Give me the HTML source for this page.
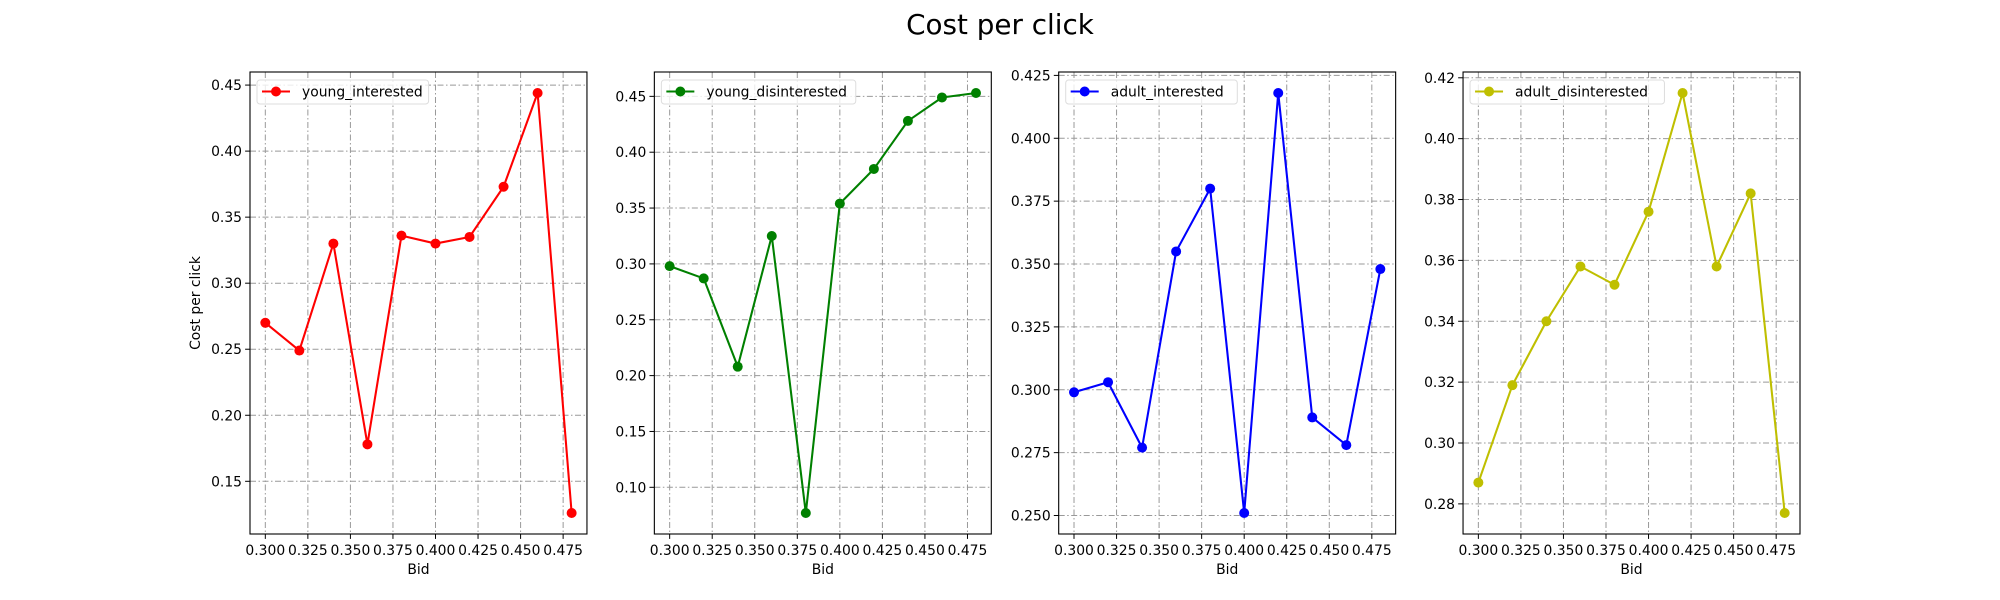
<!DOCTYPE html>
<html><head><meta charset="utf-8"><style>
html,body{margin:0;padding:0;background:#fff;}
svg{display:block;font-family:"DejaVu Sans","Liberation Sans",sans-serif;}
</style></head><body>
<svg id="chart" width="2000" height="600" viewBox="0 0 2000 600" xmlns="http://www.w3.org/2000/svg">
<text x="1000" y="34" text-anchor="middle" font-size="27.8" fill="#000">Cost per click</text>
</svg>
<script>
const bids = [0.30,0.32,0.34,0.36,0.38,0.40,0.42,0.44,0.46,0.48];
const youngInterested = [0.270,0.249,0.330,0.178,0.336,0.330,0.335,0.373,0.444,0.126];
const youngDisinterested = [0.298,0.287,0.208,0.325,0.077,0.354,0.385,0.428,0.449,0.453];
const adultInterested = [0.299,0.303,0.277,0.355,0.380,0.251,0.418,0.289,0.278,0.348];
const adultDisinterested = [0.287,0.319,0.340,0.358,0.352,0.376,0.415,0.358,0.382,0.277];
const seriesNames = ["young_interested","young_disinterested","adult_interested","adult_disinterested"];
const xTicks = [0.300,0.325,0.350,0.375,0.400,0.425,0.450,0.475];
const yTicks1 = [0.15,0.20,0.25,0.30,0.35,0.40,0.45];
const yTicks2 = [0.10,0.15,0.20,0.25,0.30,0.35,0.40,0.45];
const yTicks3 = [0.250,0.275,0.300,0.325,0.350,0.375,0.400,0.425];
const yTicks4 = [0.28,0.30,0.32,0.34,0.36,0.38,0.40,0.42];

const svg = document.getElementById('chart');
const NS = 'http://www.w3.org/2000/svg';
function mk(tag, attrs, parent){const e=document.createElementNS(NS,tag);for(const k in attrs)e.setAttribute(k,attrs[k]);(parent||svg).appendChild(e);return e;}

const panels = [
  {vals:youngInterested, ticks:yTicks1, color:'#ff0000', dec:2, ylabel:true},
  {vals:youngDisinterested, ticks:yTicks2, color:'#008000', dec:2},
  {vals:adultInterested, ticks:yTicks3, color:'#0000ff', dec:3},
  {vals:adultDisinterested, ticks:yTicks4, color:'#bfbf00', dec:2}
];
const W = 1550/(4+3*0.2), GAP = W*0.2, TOP = 72, BOT = 534;

panels.forEach((p, i) => {
  const L = 250 + i*(W+GAP), R = L + W;
  const g = mk('g', {});
  
  
  const xmin = Math.min(...bids), xmax = Math.max(...bids), xm = (xmax-xmin)*0.05;
  const ymin = Math.min(...p.vals), ymax = Math.max(...p.vals), ym = (ymax-ymin)*0.05;
  const sx = v => L + (v-(xmin-xm))/((xmax+xm)-(xmin-xm))*W;
  const sy = v => BOT - (v-(ymin-ym))/((ymax+ym)-(ymin-ym))*(BOT-TOP);
  xTicks.forEach(t => {
    const x = sx(t);
    const gl = mk('line',{x1:x,x2:x,y1:TOP,y2:BOT,stroke:'#999',"stroke-width":1,"stroke-dasharray":'6,2.5,1.5,2.5'},g);
    
    
    mk('line',{x1:x,x2:x,y1:BOT,y2:BOT+4.9,stroke:'#000',"stroke-width":1},g);
    const tx = mk('text',{x:x,y:BOT+21,"text-anchor":'middle',"font-size":13.9,fill:'#000'},g);
    tx.textContent = t.toFixed(3);
    
    
  });
  p.ticks.forEach(t => {
    const y = sy(t);
    const gl = mk('line',{x1:L,x2:R,y1:y,y2:y,stroke:'#999',"stroke-width":1,"stroke-dasharray":'6,2.5,1.5,2.5'},g);
    
    
    mk('line',{x1:L-4.9,x2:L,y1:y,y2:y,stroke:'#000',"stroke-width":1},g);
    const ty = mk('text',{x:L-8,y:y+5,"text-anchor":'end',"font-size":13.9,fill:'#000'},g);
    ty.textContent = t.toFixed(p.dec);
    
    
  });
  const pts = bids.map((b,k)=>sx(b).toFixed(2)+','+sy(p.vals[k]).toFixed(2)).join(' ');
  const pl = mk('polyline',{points:pts,fill:'none',stroke:p.color,"stroke-width":2.08,"stroke-linejoin":'round'},g);
  
  
  bids.forEach((b,k)=>{
    const c = mk('circle',{cx:sx(b),cy:sy(p.vals[k]),r:5,fill:p.color},g);
    
    
  });
  const fr = mk('rect',{x:L,y:TOP,width:W,height:BOT-TOP,fill:'none',stroke:'#000',"stroke-width":1.1},g);
  
  
  const xl = mk('text',{x:(L+R)/2,y:574,"text-anchor":'middle',"font-size":13.9,fill:'#000'},g);
  xl.textContent = 'Bid';
  
  
  if (p.ylabel) {
    const yl = mk('text',{x:0,y:0,"text-anchor":'middle',"font-size":13.9,fill:'#000',transform:`translate(200,${(TOP+BOT)/2}) rotate(-90)`},g);
    yl.textContent = 'Cost per click';
    
    
  }
  const lg = mk('g',{},g);
  
  
  const name = seriesNames[i];
  const tw = name.length*7.6 + 50;
  mk('rect',{x:L+7,y:TOP+8,width:tw,height:24,rx:3,fill:'#fff',"fill-opacity":0.8,stroke:'#ddd',"stroke-width":1},lg);
  mk('line',{x1:L+12,x2:L+40,y1:TOP+19.5,y2:TOP+19.5,stroke:p.color,"stroke-width":2.08},lg);
  mk('circle',{cx:L+26,cy:TOP+19.5,r:5,fill:p.color},lg);
  const lt = mk('text',{x:L+52,y:TOP+24.5,"font-size":13.9,fill:'#000'},lg);
  lt.textContent = name;
  
  
});
</script>
</body></html>
